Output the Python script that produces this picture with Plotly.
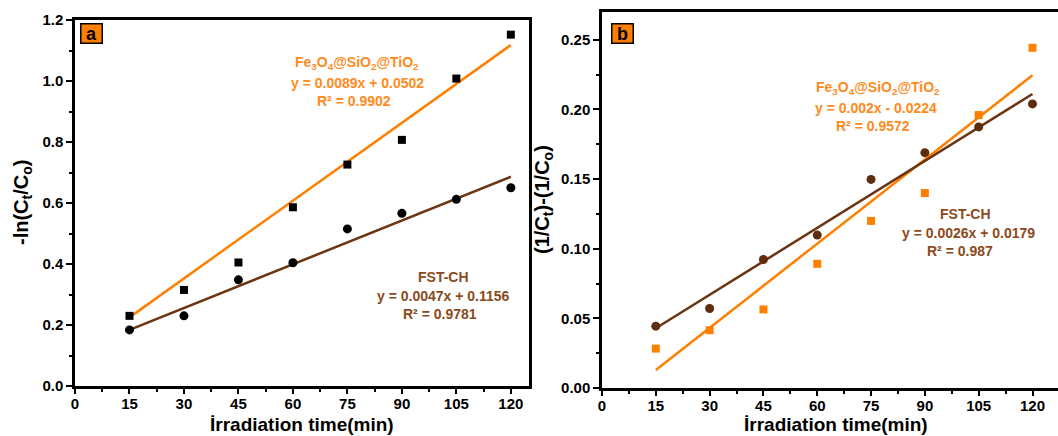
import plotly.graph_objects as go

# ---------------- data ----------------
time_min = [15, 30, 45, 60, 75, 90, 105, 120]

# panel a : -ln(Ct/Co)
a_fe3o4 = [0.230, 0.315, 0.405, 0.586, 0.726, 0.807, 1.008, 1.152]
a_fstch = [0.184, 0.230, 0.348, 0.404, 0.515, 0.566, 0.612, 0.650]
# panel b : (1/Ct)-(1/Co)
b_fe3o4 = [0.0283, 0.0415, 0.0564, 0.0892, 0.120, 0.140, 0.196, 0.2443]
b_fstch = [0.0444, 0.0571, 0.0923, 0.1098, 0.1498, 0.169, 0.1875, 0.204]

# fitted lines as drawn in the picture (endpoints at 15 and 120 min)
fit_x = [15, 120]
a_fe3o4_fit = [0.225, 1.118]
a_fstch_fit = [0.184, 0.686]
b_fe3o4_fit = [0.0129, 0.2246]
b_fstch_fit = [0.0429, 0.2111]

x_ticks = [0, 15, 30, 45, 60, 75, 90, 105, 120]
a_yticks = [0.0, 0.2, 0.4, 0.6, 0.8, 1.0, 1.2]
b_yticks = [0.00, 0.05, 0.10, 0.15, 0.20, 0.25]

# ---------------- style ----------------
ORANGE = "#FF8000"
ORANGE_TXT = "#FF8A1C"
BROWN_LINE = "#6B3413"
BROWN_TXT = "#8B4A1C"
BROWN_MK = "#5E2C0E"
FONT = "Liberation Sans"

W, H = 1058, 436

def px_x(p):
    return p / W

def px_y(p):
    return 1 - p / H

fig = go.Figure()

# panel a
fig.add_trace(go.Scatter(x=fit_x, y=a_fe3o4_fit, mode="lines", line=dict(color=ORANGE, width=2.5),
                         xaxis="x", yaxis="y", showlegend=False))
fig.add_trace(go.Scatter(x=fit_x, y=a_fstch_fit, mode="lines", line=dict(color=BROWN_LINE, width=2.5),
                         xaxis="x", yaxis="y", showlegend=False))
fig.add_trace(go.Scatter(x=time_min, y=a_fe3o4, mode="markers",
                         marker=dict(symbol="square", size=8, color="black"),
                         xaxis="x", yaxis="y", showlegend=False))
fig.add_trace(go.Scatter(x=time_min, y=a_fstch, mode="markers",
                         marker=dict(symbol="circle", size=9, color="black"),
                         xaxis="x", yaxis="y", showlegend=False))

# panel b
fig.add_trace(go.Scatter(x=fit_x, y=b_fe3o4_fit, mode="lines", line=dict(color=ORANGE, width=2.5),
                         xaxis="x2", yaxis="y2", showlegend=False))
fig.add_trace(go.Scatter(x=fit_x, y=b_fstch_fit, mode="lines", line=dict(color=BROWN_LINE, width=2.5),
                         xaxis="x2", yaxis="y2", showlegend=False))
fig.add_trace(go.Scatter(x=time_min, y=b_fe3o4, mode="markers",
                         marker=dict(symbol="square", size=8, color=ORANGE),
                         xaxis="x2", yaxis="y2", showlegend=False))
fig.add_trace(go.Scatter(x=time_min, y=b_fstch, mode="markers",
                         marker=dict(symbol="circle", size=9, color=BROWN_MK),
                         xaxis="x2", yaxis="y2", showlegend=False))

tickfont = dict(family=FONT, size=15, color="black", weight="bold")

def xaxis_common(domain, rng):
    return dict(domain=domain, range=rng, tickmode="array", tickvals=x_ticks,
                ticktext=[str(v) for v in x_ticks],
                ticks="outside", ticklen=5, tickwidth=2, tickcolor="black", ticklabelstandoff=-3,
                minor=dict(dtick=7.5, tick0=0, ticks="outside", ticklen=3, tickwidth=2, tickcolor="black"),
                showline=True, linecolor="black", linewidth=2.5, mirror=True,
                showgrid=False, zeroline=False, tickfont=tickfont, automargin=False)

def yaxis_common(domain, rng, ticks, fmt, minor_dtick, anchor, mirror):
    return dict(domain=domain, range=rng, tickmode="array", tickvals=ticks,
                ticktext=[fmt.format(v) for v in ticks], anchor=anchor,
                ticks="outside", ticklen=6, tickwidth=2, tickcolor="black",
                minor=dict(dtick=minor_dtick, tick0=0, ticks="outside", ticklen=3, tickwidth=2, tickcolor="black"),
                showline=True, linecolor="black", linewidth=2.5, mirror=mirror,
                showgrid=False, zeroline=False, tickfont=tickfont, automargin=False)

b_x_max = (W - 602) / ((1032.5 - 602) / 120)

fig.update_layout(
    width=W, height=H,
    margin=dict(l=0, r=0, t=0, b=0),
    paper_bgcolor="white", plot_bgcolor="white",
    xaxis=xaxis_common([px_x(75), px_x(529)], [0, 125]) | dict(anchor="y"),
    yaxis=yaxis_common([px_y(386), px_y(20)], [0, 1.2], a_yticks, "{:.1f}", 0.1, "x", True),
    xaxis2=xaxis_common([px_x(602), 1.0], [0, b_x_max]) | dict(anchor="y2"),
    yaxis2=yaxis_common([px_y(388), px_y(12)], [0, 0.27], b_yticks, "{:.2f}", 0.025, "x2", False),
)

ann = []
def text(x, y, s, color, size=14, xref="paper", yref="paper"):
    ann.append(dict(x=px_x(x), y=px_y(y), xref=xref, yref=yref, text=s, showarrow=False,
                    font=dict(family=FONT, size=size, color=color), xanchor="center", yanchor="middle"))

fe = "<b>Fe<sub>3</sub>O<sub>4</sub>@SiO<sub>2</sub>@TiO<sub>2</sub></b>"
# panel a annotations
text(357, 63, fe, ORANGE_TXT)
text(357, 83, "<b>y = 0.0089x + 0.0502</b>", ORANGE_TXT)
text(354, 101, "<b>R² = 0.9902</b>", ORANGE_TXT)
text(443, 277, "<b>FST-CH</b>", BROWN_TXT)
text(443, 296, "<b>y = 0.0047x + 0.1156</b>", BROWN_TXT)
text(440, 314, "<b>R² = 0.9781</b>", BROWN_TXT)
# panel b annotations
text(878, 88, fe, ORANGE_TXT)
text(876, 108, "<b>y = 0.002x - 0.0224</b>", ORANGE_TXT)
text(873, 126, "<b>R² = 0.9572</b>", ORANGE_TXT)
text(965, 214, "<b>FST-CH</b>", BROWN_TXT)
text(968, 233, "<b>y = 0.0026x + 0.0179</b>", BROWN_TXT)
text(960, 251, "<b>R² = 0.987</b>", BROWN_TXT)

# axis titles
text(302, 424.5, "<b>İrradiation time(min)</b>", "black", size=19)
text(836, 424.5, "<b>İrradiation time(min)</b>", "black", size=19)
ann.append(dict(x=px_x(23), y=px_y(203), xref="paper", yref="paper",
                text="<b>-ln(C<sub>t</sub>/C<sub>o</sub>)</b>", textangle=-90, showarrow=False,
                font=dict(family=FONT, size=20, color="black"), xanchor="center", yanchor="middle"))
ann.append(dict(x=px_x(543), y=px_y(200), xref="paper", yref="paper",
                text="<b>(1/C<sub>t</sub>)-(1/C<sub>o</sub>)</b>", textangle=-90, showarrow=False,
                font=dict(family=FONT, size=20, color="black"), xanchor="center", yanchor="middle"))

# panel labels
for lab, cx, cy in [("a", 91.5, 34), ("b", 622.5, 33.5)]:
    ann.append(dict(x=px_x(cx), y=px_y(cy), xref="paper", yref="paper", text="<b>" + lab + "</b>",
                    showarrow=False, font=dict(family=FONT, size=18, color="black"),
                    bgcolor=ORANGE, bordercolor="black", borderwidth=1.5, borderpad=0,
                    width=20, height=18, xanchor="center", yanchor="middle"))

fig.update_layout(annotations=ann)
fig.write_html("out.html")
